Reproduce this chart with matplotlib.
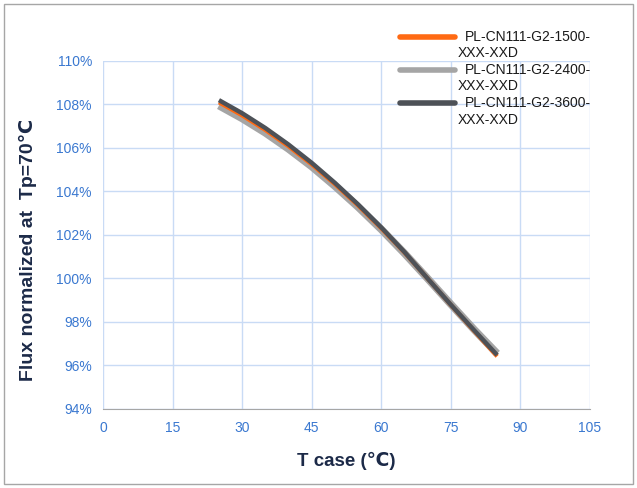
import numpy as np
import matplotlib.pyplot as plt
from matplotlib.lines import Line2D
from matplotlib.patches import Rectangle
from matplotlib.ticker import FuncFormatter

plt.rcParams['font.family'] = ['Liberation Sans', 'DejaVu Sans']

# --- dados ---
t_case = [25, 30, 35, 40, 45, 50, 55, 60, 65, 70, 75, 80, 85]
flux_1500 = [108.1, 107.5, 106.83, 106.08, 105.25, 104.34, 103.36, 102.31, 101.2, 100.0, 98.79, 97.6, 96.42]
flux_2400 = [107.95, 107.36, 106.7, 105.96, 105.15, 104.25, 103.29, 102.26, 101.16, 100.0, 98.82, 97.66, 96.55]
flux_3600 = [108.2, 107.6, 106.92, 106.16, 105.32, 104.4, 103.41, 102.35, 101.22, 100.0, 98.8, 97.63, 96.48]
series_names = ['PL-CN111-G2-1500-\nXXX-XXD', 'PL-CN111-G2-2400-\nXXX-XXD', 'PL-CN111-G2-3600-\nXXX-XXD']
series_colors = ['#FF6A13', '#A5A5A5', '#4D5157']

x_ticks = [0, 15, 30, 45, 60, 75, 90, 105]
y_ticks = [94, 96, 98, 100, 102, 104, 106, 108, 110]

tick_color = '#3A78D0'
label_color = '#1C2A48'
grid_color = '#C9DBF5'

fig = plt.figure(figsize=(6.37, 4.88), dpi=100)
ax = fig.add_axes([0.1617, 0.1619, 0.7643, 0.7131])

ax.plot(t_case, flux_2400, color=series_colors[1], lw=5.5, solid_capstyle='butt', zorder=3)
ax.plot(t_case, flux_1500, color=series_colors[0], lw=3, solid_capstyle='butt', zorder=4)
ax.plot(t_case, flux_3600, color=series_colors[2], lw=3.2, solid_capstyle='butt', zorder=5)

ax.set_xlim(0, 105)
ax.set_ylim(94, 110)
ax.set_xticks(x_ticks)
ax.set_yticks(y_ticks)
ax.yaxis.set_major_formatter(FuncFormatter(lambda v, p: f'{v:.0f}%'))
ax.tick_params(length=0, colors=tick_color, labelsize=10, pad=9)
ax.tick_params(axis='y', pad=8)
ax.grid(True, color=grid_color, lw=1)
ax.set_axisbelow(True)
for s in ['top', 'right', 'left']:
    ax.spines[s].set_visible(False)
ax.spines['bottom'].set_color('#A6A6A6')

ax.set_xlabel('T case (℃)', fontsize=13.5, fontweight='bold', color=label_color, labelpad=12)
ax.set_ylabel('Flux normalized at  Tp=70℃', fontsize=14, fontweight='bold', color=label_color)
ax.yaxis.set_label_coords(-0.135, 0.457)

# legenda manual (texto quebrado em duas linhas como no original)
leg_y = [0.925, 0.857, 0.789]
for name, col, yy in zip(series_names, series_colors, leg_y):
    fig.add_artist(Line2D([400/637, 455/637], [yy, yy], color=col, lw=4, solid_capstyle='round'))
    first, second = name.split('\n')
    fig.text(465/637, yy, first, fontsize=10, color='#1A1A1A', va='center', ha='left')
    fig.text(458/637, yy - 0.034, second, fontsize=10, color='#1A1A1A', va='center', ha='left')

fig.add_artist(Rectangle((4/637, 4/488), 629/637, 480/488, fill=False, edgecolor='#A6A6A6', lw=1))

fig.savefig('out.png', dpi=100)
